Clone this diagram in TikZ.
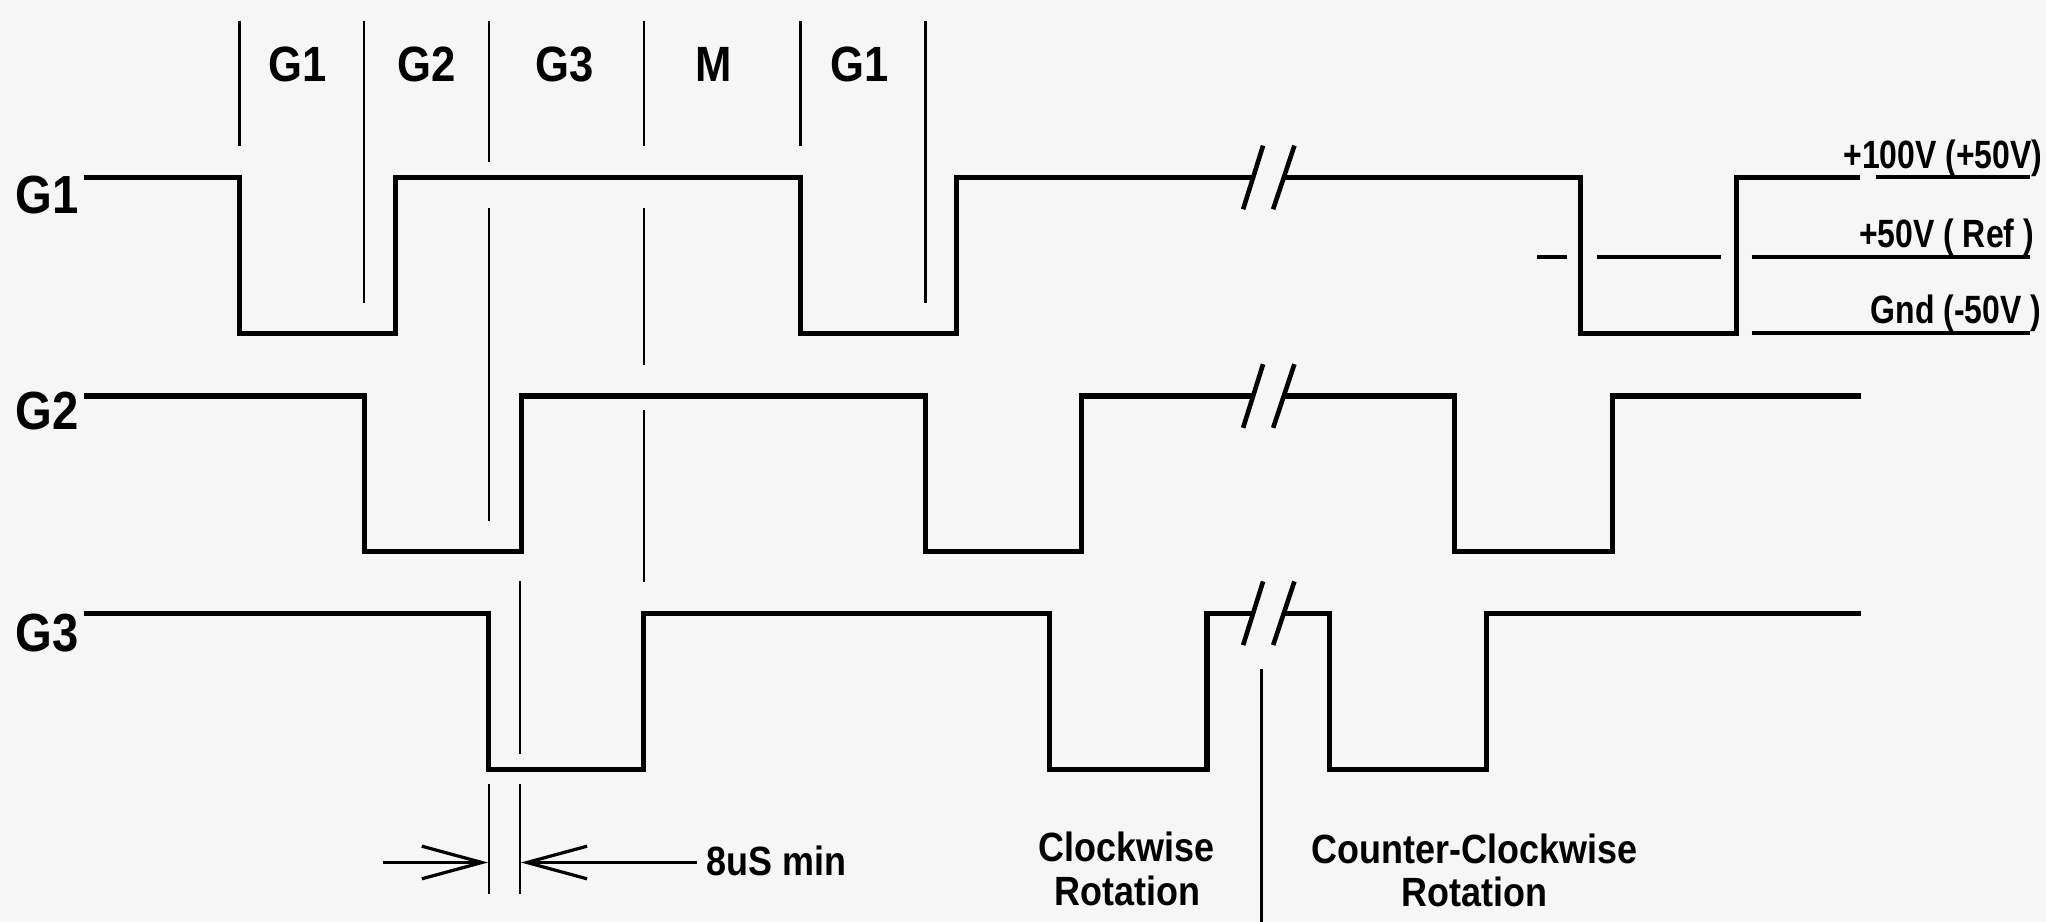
\documentclass[tikz,border=0pt]{standalone}
\usepackage{fontspec}
\setmainfont{Liberation Sans}[FakeStretch=0.88]
\newfontfamily\levfont{Liberation Sans}[FakeStretch=0.81]
\usetikzlibrary{arrows.meta}
\definecolor{bgc}{HTML}{F6F6F6}
\begin{document}
\begin{tikzpicture}[x=0.01cm,y=-0.01cm,
  wave/.style={line width=1.1pt, line join=miter},
  brk/.style={line width=1pt},
  thinln/.style={line width=0.55pt},
  reflev/.style={line width=0.85pt},
  dimln/.style={line width=0.7pt, -{Straight Barb[length=4.6mm,width=2.5mm]}},
  toplab/.style={font=\fontsize{10.8}{12}\selectfont\bfseries, anchor=base, inner sep=0pt},
  sidelab/.style={font=\fontsize{11.7}{13}\selectfont\bfseries, anchor=base west, inner sep=0pt},
  levlab/.style={font=\levfont\fontsize{8.6}{10}\selectfont\bfseries, anchor=base west, inner sep=0pt},
  notelab/.style={font=\fontsize{8.9}{10}\selectfont\bfseries, inner sep=0pt}
]
\fill[bgc] (0,0) rectangle (1568,706.6);
\useasboundingbox (0,0) rectangle (1568,706.6);

% ---- G1 waveform
\draw[wave] (64,136) -- (183.7,136) -- (183.7,255.4) -- (303,255.4) -- (303,136) -- (613.6,136) -- (613.6,255.4) -- (733,255.4) -- (733,136) -- (960.3,136);
\draw[wave] (983.9,136) -- (1211,136) -- (1211,255.4) -- (1330.5,255.4) -- (1330.5,136) -- (1425.5,136);
\draw[brk] (952.7,160.4) -- (968,111.6);
\draw[brk] (975.7,160.4) -- (992,111.6);

% ---- G2 waveform
\draw[wave] (64,303.5) -- (279,303.5) -- (279,422.6) -- (399.6,422.6) -- (399.6,303.5) -- (709.5,303.5) -- (709.5,422.6) -- (829,422.6) -- (829,303.5) -- (960.3,303.5);
\draw[wave] (983.9,303.5) -- (1115,303.5) -- (1115,422.6) -- (1236,422.6) -- (1236,303.5) -- (1426,303.5);
\draw[brk] (952.7,327.9) -- (968,279.1);
\draw[brk] (975.7,327.9) -- (992,279.1);

% ---- G3 waveform
\draw[wave] (64,470) -- (374.7,470) -- (374.7,590) -- (493.4,590) -- (493.4,470) -- (804,470) -- (804,590) -- (925,590) -- (925,470) -- (960.3,470);
\draw[wave] (983.9,470) -- (1019,470) -- (1019,590) -- (1139,590) -- (1139,470) -- (1426,470);
\draw[brk] (952.7,494.4) -- (968,445.6);
\draw[brk] (975.7,494.4) -- (992,445.6);

% ---- reference levels
\draw[reflev] (1437.5,135.5) -- (1555.7,135.5);
\draw[reflev] (1178,197) -- (1200.6,197);
\draw[reflev] (1223.6,197) -- (1318.9,197);
\draw[reflev] (1342.4,197) -- (1555.7,197);
\draw[reflev] (1342.4,255.4) -- (1555.7,255.4);

% ---- thin timing lines
\draw[thinln] (183.7,15.8) -- (183.7,111.6);
\draw[thinln] (279,15.8) -- (279,232);
\draw[thinln] (374.7,15.8) -- (374.7,123.9);
\draw[thinln] (374.7,159.6) -- (374.7,399.6);
\draw[thinln] (493.4,15.8) -- (493.4,111.6);
\draw[thinln] (493.4,159.6) -- (493.4,279.7);
\draw[thinln] (493.4,314) -- (493.4,446.3);
\draw[thinln] (613.6,15.8) -- (613.6,111.6);
\draw[thinln] (709.3,15.8) -- (709.3,232);
\draw[thinln] (398.5,445.5) -- (398.5,578);
\draw[thinln] (374.7,601) -- (374.7,685);
\draw[thinln] (398.5,601) -- (398.5,685);
\draw[thinln] (966.8,512.6) -- (966.8,706.6);

% ---- 8uS dimension
\coordinate (aL) at (293.3,661);
\coordinate (aLt) at (374,661);
\coordinate (aR) at (534.4,661);
\coordinate (aRt) at (399.2,661);
\draw[dimln] (aL) -- (aLt);
\draw[dimln] (aR) -- (aRt);
\node[notelab, anchor=base west] (dim) at (541,670.6) {8uS min};

% ---- top labels
\node[toplab] (t1) at (228,62.6) {G1};
\node[toplab] (t2) at (327,62.6) {G2};
\node[toplab] (t3) at (433,62.6) {G3};
\node[toplab] (t4) at (547,62.6) {M};
\node[toplab] (t5) at (658.5,62.6) {G1};

% ---- side labels
\node[sidelab] (s1) at (11,163.5) {G1};
\node[sidelab] (s2) at (11,329.5) {G2};
\node[sidelab] (s3) at (11,499.5) {G3};

% ---- level labels
\node[levlab] (l1) at (1412,128.8) {+100V (+50V)};
\node[levlab] (l2) at (1424,190) {+50V ( Ref )};
\node[levlab] (l3) at (1433,247.6) {Gnd (-50V )};

% ---- rotation labels
\node[notelab, anchor=base] (cw1) at (863.5,660.4) {Clockwise};
\node[notelab, anchor=base] (cw2) at (864,693.6) {Rotation};
\node[notelab, anchor=base] (ccw1) at (1130,661.6) {Counter-Clockwise};
\node[notelab, anchor=base] (ccw2) at (1130,695) {Rotation};
\end{tikzpicture}
\end{document}
